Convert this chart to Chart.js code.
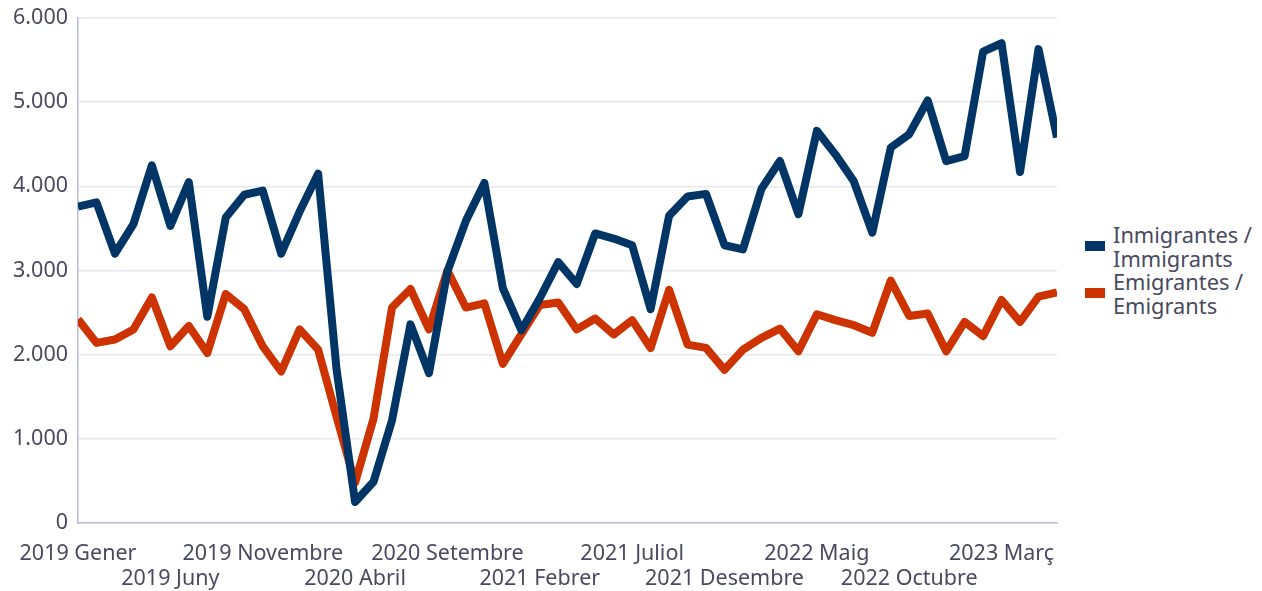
<!DOCTYPE html>
<html lang="ca">
<head>
  <meta charset="UTF-8">
  <title>Inmigrantes / Emigrantes</title>
  <script src="https://cdn.jsdelivr.net/npm/chart.js"></script>
  <style>
    body { margin: 0; background: #fff; font-family: "Noto Sans", sans-serif; }
    .wrap { position: relative; width: 1262px; height: 591px; }
    #grafic { position: absolute; left: 0; top: 0; }
    .legend { position: absolute; left: 1085px; top: 223px; color: #494a60; font-size: 21.8px; line-height: 23.5px; }
    .legend-item { position: relative; padding-left: 28px; }
    .legend-item span { position: absolute; left: 0; top: 18px; width: 20px; height: 10px; }
  </style>
</head>
<body>

<div class="wrap">
  <canvas id="grafic" width="1076" height="591"></canvas>
  <div class="legend" id="llegenda"></div>
</div>

<script>
  // Mesos i anys de la sèrie
  const mesos = ['Gener', 'Febrer', 'Març', 'Abril', 'Maig', 'Juny', 'Juliol', 'Agost', 'Setembre', 'Octubre', 'Novembre', 'Desembre'];
  const anys = [2019, 2020, 2021, 2022, 2023];
  const totalMesos = 54;

  const inmigrantes = [
    3760, 3810, 3200, 3550, 4250, 3530, 4050, 2450, 3630, 3900, 3950, 3200,
    3700, 4150, 1820, 250, 490, 1220, 2360, 1780, 2990, 3590, 4040, 2790,
    2290, 2670, 3100, 2840, 3440, 3380, 3300, 2540, 3650, 3880, 3910, 3300,
    3250, 3970, 4300, 3670, 4660, 4380, 4060, 3450, 4460, 4620, 5020, 4300,
    4360, 5600, 5700, 4170, 5630, 4580
  ];
  const emigrantes = [
    2420, 2140, 2180, 2300, 2680, 2100, 2340, 2020, 2720, 2540, 2100, 1800,
    2300, 2060, 1260, 480, 1240, 2560, 2780, 2300, 3000, 2560, 2610, 1890,
    2240, 2590, 2620, 2300, 2430, 2240, 2410, 2080, 2770, 2120, 2080, 1820,
    2060, 2200, 2310, 2040, 2480, 2410, 2350, 2260, 2880, 2460, 2490, 2040,
    2390, 2220, 2650, 2390, 2690, 2740
  ];

  const series = [
    { label: ['Inmigrantes /', 'Immigrants'], data: inmigrantes, color: '#003566' },
    { label: ['Emigrantes /', 'Emigrants'], data: emigrantes, color: '#cc3300' }
  ];

  // Etiquetes "2019 Gener", "2019 Febrer", ...
  const etiquetes = [];
  for (let i = 0; i < totalMesos; i++) {
    etiquetes.push(anys[Math.floor(i / 12)] + ' ' + mesos[i % 12]);
  }

  const colorText = '#494a60';
  const font = { family: '"Noto Sans", sans-serif', size: 21.5, lineHeight: 1.13 };

  function milers(v) {
    return String(v).replace(/\B(?=(\d{3})+(?!\d))/g, '.');
  }

  new Chart(document.getElementById('grafic'), {
    type: 'line',
    data: {
      labels: etiquetes,
      datasets: series.map(s => ({
        label: s.label.join(' '),
        data: s.data,
        borderColor: s.color,
        backgroundColor: s.color,
        borderWidth: 8,
        borderJoinStyle: 'round',
        pointRadius: 0,
        tension: 0,
        clip: 0
      }))
    },
    options: {
      responsive: false,
      animation: false,
      layout: { padding: { top: 18, right: 5, left: 0, bottom: 0 } },
      plugins: {
        legend: { display: false },
        tooltip: { enabled: false }
      },
      scales: {
        x: {
          grid: { display: false, drawTicks: false },
          border: { display: true, color: '#b9bcd4', width: 1.5 },
          afterFit(scale) { scale.height = 68; },
          ticks: {
            autoSkip: false,
            maxRotation: 0,
            padding: 19,
            color: colorText,
            font: font,
            callback(val, i) {
              if (i % 5 !== 0) return '';
              const text = this.getLabelForValue(val);
              return (i / 5) % 2 === 0 ? text : ['', text];
            }
          }
        },
        y: {
          min: 0,
          max: 6000,
          afterFit(scale) {
            scale.width = 78;
            scale.paddingTop = 0;
            scale.paddingBottom = 0;
          },
          grid: { color: '#e8e8f0', lineWidth: 1.5, drawTicks: false },
          border: { display: true, color: '#b9bcd4', width: 1.5 },
          ticks: {
            stepSize: 1000,
            padding: 10,
            color: colorText,
            font: font,
            callback: v => milers(v)
          }
        }
      }
    }
  });

  // Llegenda a la dreta
  const llegenda = document.getElementById('llegenda');
  series.forEach(s => {
    const item = document.createElement('div');
    item.className = 'legend-item';
    const caixa = document.createElement('span');
    caixa.style.background = s.color;
    item.appendChild(caixa);
    s.label.forEach(l => {
      const linia = document.createElement('div');
      linia.textContent = l;
      item.appendChild(linia);
    });
    llegenda.appendChild(item);
  });
</script>

</body>
</html>
